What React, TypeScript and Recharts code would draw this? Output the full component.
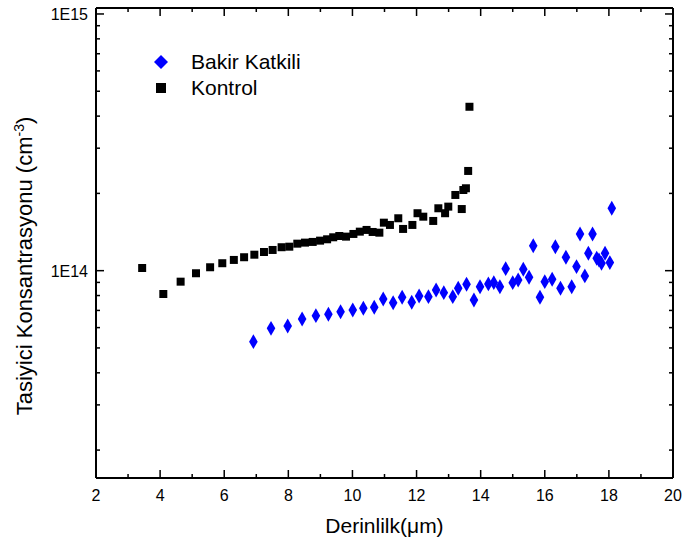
import React from 'react';
import { ScatterChart, Scatter, XAxis, YAxis, ZAxis } from 'recharts';

// Bakir Katkili (blue diamonds)
const bakirX = [6.91, 7.46, 7.98, 8.43, 8.86, 9.25, 9.63, 10.01, 10.34, 10.68, 10.96, 11.27, 11.55, 11.85, 12.08, 12.37, 12.61, 12.85, 13.13, 13.3, 13.56, 13.79, 13.98, 14.24, 14.41, 14.6, 14.78, 15.0, 15.17, 15.33, 15.51, 15.64, 15.85, 16.0, 16.23, 16.33, 16.49, 16.66, 16.84, 16.99, 17.1, 17.25, 17.36, 17.49, 17.62, 17.69, 17.77, 17.88, 18.03, 18.09];
const bakirY = [5.29e13, 5.96e13, 6.09e13, 6.48e13, 6.68e13, 6.76e13, 6.92e13, 7.03e13, 7.14e13, 7.2e13, 7.76e13, 7.5e13, 7.88e13, 7.53e13, 7.97e13, 7.92e13, 8.41e13, 8.21e13, 7.92e13, 8.54e13, 8.85e13, 7.69e13, 8.66e13, 8.88e13, 8.98e13, 8.66e13, 1.018e14, 8.98e13, 9.2e13, 1.013e14, 9.43e13, 1.251e14, 7.88e13, 9.06e13, 9.26e13, 1.24e14, 8.54e13, 1.128e14, 8.66e13, 1.037e14, 1.39e14, 9.54e13, 1.169e14, 1.39e14, 1.118e14, 1.1e14, 1.069e14, 1.169e14, 1.075e14, 1.75e14];

// Kontrol (black squares)
const kontrolX = [3.44, 4.1, 4.64, 5.12, 5.56, 5.94, 6.3, 6.62, 6.94, 7.24, 7.51, 7.79, 8.03, 8.28, 8.52, 8.76, 8.99, 9.21, 9.4, 9.59, 9.8, 10.03, 10.23, 10.44, 10.63, 10.84, 10.98, 11.17, 11.43, 11.58, 11.87, 12.03, 12.21, 12.52, 12.68, 12.89, 12.99, 13.21, 13.41, 13.46, 13.54, 13.61, 13.65];
const kontrolY = [1.024e14, 8.11e13, 9.06e13, 9.77e13, 1.031e14, 1.069e14, 1.101e14, 1.128e14, 1.154e14, 1.182e14, 1.204e14, 1.234e14, 1.24e14, 1.274e14, 1.286e14, 1.294e14, 1.309e14, 1.325e14, 1.349e14, 1.365e14, 1.357e14, 1.39e14, 1.419e14, 1.441e14, 1.415e14, 1.406e14, 1.538e14, 1.507e14, 1.6e14, 1.454e14, 1.507e14, 1.674e14, 1.623e14, 1.562e14, 1.75e14, 1.674e14, 1.776e14, 1.972e14, 1.738e14, 2.062e14, 2.094e14, 2.446e14, 4.35e14];

const seriesNames = ['Bakir Katkili', 'Kontrol'];
const xTitle = 'Derinlilk(μm)';
const yTitle = 'Tasiyici Konsantrasyonu (cm';
const xTicks = [2, 3, 4, 5, 6, 7, 8, 9, 10, 11, 12, 13, 14, 15, 16, 17, 18, 19, 20];
const yTicks = [2e13, 3e13, 4e13, 5e13, 6e13, 7e13, 8e13, 9e13, 1e14, 2e14, 3e14, 4e14, 5e14, 6e14, 7e14, 8e14, 9e14, 1e15];

const bakirData = bakirX.map((x, i) => ({ x, y: bakirY[i] }));
const kontrolData = kontrolX.map((x, i) => ({ x, y: kontrolY[i] }));

const FONT = '"Liberation Sans", Arial, sans-serif';
const BLUE = '#0000FF';
const X_DOMAIN = [2, 20];
const Y_DOMAIN = [1.557e13, 1.055e15];

// layout
const W = 683;
const H = 548;
const LEFT_W = 96;
const RIGHT_W = 10;
const TOP_H = 8;
const BOTTOM_H = 70;
const PLOT_RIGHT = W - RIGHT_W;
const PLOT_TOP = TOP_H;

const MAJOR = 8;
const MINOR = 4;
const TW = 1.5;

const isDecade = (v: number) => {
  const l = Math.log10(v);
  return Math.abs(l - Math.round(l)) < 1e-6;
};

// inward ticks on the bottom edge, mirrored on the top edge
const BottomTick = ({ x, y, payload }: any) => {
  const major = payload.value % 2 === 0;
  const len = major ? MAJOR : MINOR;
  return (
    <g>
      <rect x={x - TW / 2} y={y - len} width={TW} height={len} fill="#000" />
      <rect x={x - TW / 2} y={PLOT_TOP} width={TW} height={len} fill="#000" />
      {major && (
        <text x={x} y={y + 23} textAnchor="middle" fontSize={16} fill="#000">
          {payload.value}
        </text>
      )}
    </g>
  );
};

// inward ticks on the left edge, mirrored on the right edge
const LeftTick = ({ x, y, payload }: any) => {
  const major = isDecade(payload.value);
  const len = major ? MAJOR : MINOR;
  return (
    <g>
      <rect x={x} y={y - TW / 2} width={len} height={TW} fill="#000" />
      <rect x={PLOT_RIGHT - len} y={y - TW / 2} width={len} height={TW} fill="#000" />
      {major && (
        <text x={x - 8} y={y + 6} textAnchor="end" fontSize={16} fill="#000">
          {'1E' + Math.round(Math.log10(payload.value))}
        </text>
      )}
    </g>
  );
};

const LegendBox = () => (
  <div style={{ position: 'absolute', left: 151, top: 49, fontSize: 21, whiteSpace: 'nowrap' }}>
    {seriesNames.map((name, i) => (
      <div key={name} style={{ display: 'flex', alignItems: 'center', height: 26 }}>
        <svg width={20} height={20} style={{ marginRight: 20, flexShrink: 0 }}>
          {i === 0 ? (
            <polygon points="10,3 17,10 10,17 3,10" fill={BLUE} />
          ) : (
            <rect x={5} y={5} width={10} height={10} fill="#000" />
          )}
        </svg>
        <span>{name}</span>
      </div>
    ))}
  </div>
);

const Titles = () => (
  <>
    <div
      style={{
        position: 'absolute',
        left: LEFT_W,
        width: PLOT_RIGHT - LEFT_W,
        top: 513,
        textAlign: 'center',
        fontSize: 21,
        lineHeight: '26px',
      }}
    >
      {xTitle}
    </div>
    <div
      style={{
        position: 'absolute',
        left: 25 - 200,
        top: 266 - 13,
        width: 400,
        height: 26,
        lineHeight: '26px',
        textAlign: 'center',
        fontSize: 22,
        whiteSpace: 'nowrap',
        transform: 'rotate(-90deg)',
      }}
    >
      {yTitle}
      <span style={{ fontSize: 14, position: 'relative', top: -8 }}>-3</span>)
    </div>
  </>
);

export default function App() {
  return (
    <div
      style={{
        position: 'absolute',
        left: 0,
        top: 0,
        width: W,
        height: H,
        background: '#fff',
        fontFamily: FONT,
        color: '#000',
      }}
    >
      <ScatterChart width={W} height={H} margin={{ top: 0, right: 0, bottom: 0, left: 0 }}>
        <XAxis
          xAxisId="b"
          dataKey="x"
          type="number"
          domain={X_DOMAIN}
          ticks={xTicks}
          interval={0}
          height={BOTTOM_H}
          tickSize={0}
          tickMargin={0}
          tick={<BottomTick />}
          axisLine={{ stroke: '#000', strokeWidth: 2 }}
        />
        <XAxis
          xAxisId="t"
          dataKey="x"
          orientation="top"
          type="number"
          domain={X_DOMAIN}
          ticks={xTicks}
          interval={0}
          height={TOP_H}
          tickSize={0}
          tickMargin={0}
          tick={false}
          axisLine={{ stroke: '#000', strokeWidth: 2 }}
        />
        <YAxis
          yAxisId="l"
          dataKey="y"
          type="number"
          scale="log"
          domain={Y_DOMAIN}
          ticks={yTicks}
          interval={0}
          width={LEFT_W}
          tickSize={0}
          tickMargin={0}
          tick={<LeftTick />}
          axisLine={{ stroke: '#000', strokeWidth: 2 }}
          allowDataOverflow
        />
        <YAxis
          yAxisId="r"
          dataKey="y"
          orientation="right"
          type="number"
          scale="log"
          domain={Y_DOMAIN}
          ticks={yTicks}
          interval={0}
          width={RIGHT_W}
          tickSize={0}
          tickMargin={0}
          tick={false}
          axisLine={{ stroke: '#000', strokeWidth: 2 }}
        />
        <ZAxis zAxisId="sq" range={[100, 100]} />
        <ZAxis zAxisId="dm" range={[80, 80]} />
        <Scatter
          xAxisId="t"
          yAxisId="r"
          zAxisId="sq"
          data={kontrolData}
          shape="square"
          fill="#000"
          isAnimationActive={false}
        />
        <Scatter
          xAxisId="b"
          yAxisId="l"
          zAxisId="dm"
          data={bakirData}
          shape="diamond"
          fill={BLUE}
          isAnimationActive={false}
        />
      </ScatterChart>
      <LegendBox />
      <Titles />
    </div>
  );
}
